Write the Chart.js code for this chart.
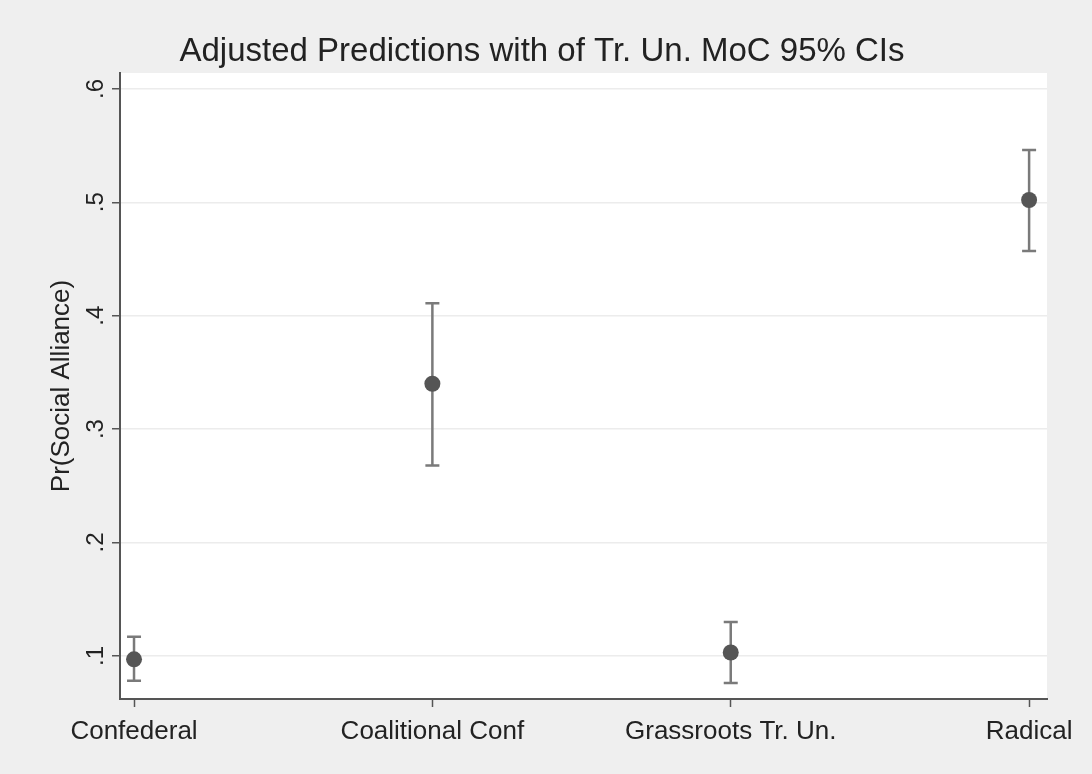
<!DOCTYPE html>
<html>
<head>
<meta charset="utf-8">
<script src="https://cdn.jsdelivr.net/npm/chart.js@4.4.0/dist/chart.umd.min.js"></script>
<style>
  html, body { margin: 0; padding: 0; background: #efefef; }
  #wrap { width: 1092px; height: 774px; }
</style>
</head>
<body>
<div id="wrap"><canvas id="chart" width="1092" height="774"></canvas></div>
<script>
  const chartTitle = "Adjusted Predictions with of Tr. Un. MoC 95% CIs";
  const yAxisTitle = "Pr(Social Alliance)";
  const categories = ["Confederal", "Coalitional Conf", "Grassroots Tr. Un.", "Radical"];
  const predicted = [0.097, 0.340, 0.103, 0.502];
  const ciLower = [0.078, 0.268, 0.076, 0.457];
  const ciUpper = [0.117, 0.411, 0.130, 0.546];
  const yTickValues = [0.1, 0.2, 0.3, 0.4, 0.5, 0.6];
  const yTickLabels = [".1", ".2", ".3", ".4", ".5", ".6"];

  const FONT = "'Liberation Sans', Arial, Helvetica, sans-serif";
  const TEXT = "#222222";
  const AXIS = "#555555";

  // white plot region
  const plotBg = {
    id: "plotBg",
    beforeDraw(chart) {
      const { ctx, chartArea: a } = chart;
      ctx.save();
      ctx.fillStyle = "#ffffff";
      ctx.fillRect(a.left, a.top, a.right - a.left, a.bottom - a.top);
      ctx.restore();
    },
  };

  // 95% CI whiskers with caps
  const errorBars = {
    id: "errorBars",
    beforeDatasetsDraw(chart) {
      const { ctx, scales } = chart;
      ctx.save();
      ctx.strokeStyle = "#7a7a7a";
      ctx.lineWidth = 2.5;
      predicted.forEach((_, i) => {
        const x = scales.x.getPixelForValue(i);
        const lo = scales.y.getPixelForValue(ciLower[i]);
        const hi = scales.y.getPixelForValue(ciUpper[i]);
        ctx.beginPath();
        ctx.moveTo(x, lo); ctx.lineTo(x, hi);
        ctx.moveTo(x - 7, lo); ctx.lineTo(x + 7, lo);
        ctx.moveTo(x - 7, hi); ctx.lineTo(x + 7, hi);
        ctx.stroke();
      });
      ctx.restore();
    },
  };

  // title + rotated y tick labels (Stata style)
  const extraText = {
    id: "extraText",
    afterDraw(chart) {
      const { ctx, scales } = chart;
      ctx.save();
      ctx.fillStyle = TEXT;
      ctx.textAlign = "center";
      ctx.textBaseline = "middle";
      ctx.font = `33px ${FONT}`;
      ctx.fillText(chartTitle, 542, 52);

      ctx.font = `24px ${FONT}`;
      yTickValues.forEach((v, i) => {
        const y = scales.y.getPixelForValue(v);
        ctx.save();
        ctx.translate(96, y);
        ctx.rotate(-Math.PI / 2);
        ctx.fillText(yTickLabels[i], 0, 0);
        ctx.restore();
      });
      ctx.restore();
    },
  };

  new Chart(document.getElementById("chart").getContext("2d"), {
    type: "scatter",
    data: {
      datasets: [{
        data: predicted.map((v, i) => ({ x: i, y: v })),
        pointRadius: 8,
        pointHoverRadius: 8,
        pointBackgroundColor: "#555555",
        pointBorderWidth: 0,
      }],
    },
    options: {
      responsive: false,
      animation: false,
      devicePixelRatio: 1,
      layout: { padding: { top: 73, right: 45, left: 0, bottom: 0 } },
      plugins: { legend: { display: false }, tooltip: { enabled: false }, title: { display: false } },
      scales: {
        x: {
          type: "linear",
          min: -0.047,
          max: 3.06,
          afterBuildTicks: (s) => { s.ticks = categories.map((_, i) => ({ value: i })); },
          afterFit: (s) => { s.height = 75; },
          ticks: {
            callback: (v, i) => categories[i],
            font: { family: FONT, size: 26 },
            color: TEXT,
            padding: 9,
            autoSkip: false,
            maxRotation: 0,
            minRotation: 0,
          },
          grid: { drawOnChartArea: false, drawTicks: true, tickLength: 8, tickColor: AXIS, tickWidth: 1.5 },
          border: { color: AXIS, width: 2 },
        },
        y: {
          type: "linear",
          min: 0.062,
          max: 0.614,
          afterBuildTicks: (s) => { s.ticks = yTickValues.map((v) => ({ value: v })); },
          afterFit: (s) => { s.width = 120; },
          ticks: { display: false },
          grid: { color: "#ececec", lineWidth: 1.5, drawTicks: true, tickLength: 8, tickColor: AXIS, tickWidth: 1.5 },
          border: { color: AXIS, width: 2 },
          title: {
            display: true,
            text: yAxisTitle,
            font: { family: FONT, size: 26 },
            color: TEXT,
            padding: { top: 46, bottom: 0 },
          },
        },
      },
    },
    plugins: [plotBg, errorBars, extraText],
  });
</script>
</body>
</html>
